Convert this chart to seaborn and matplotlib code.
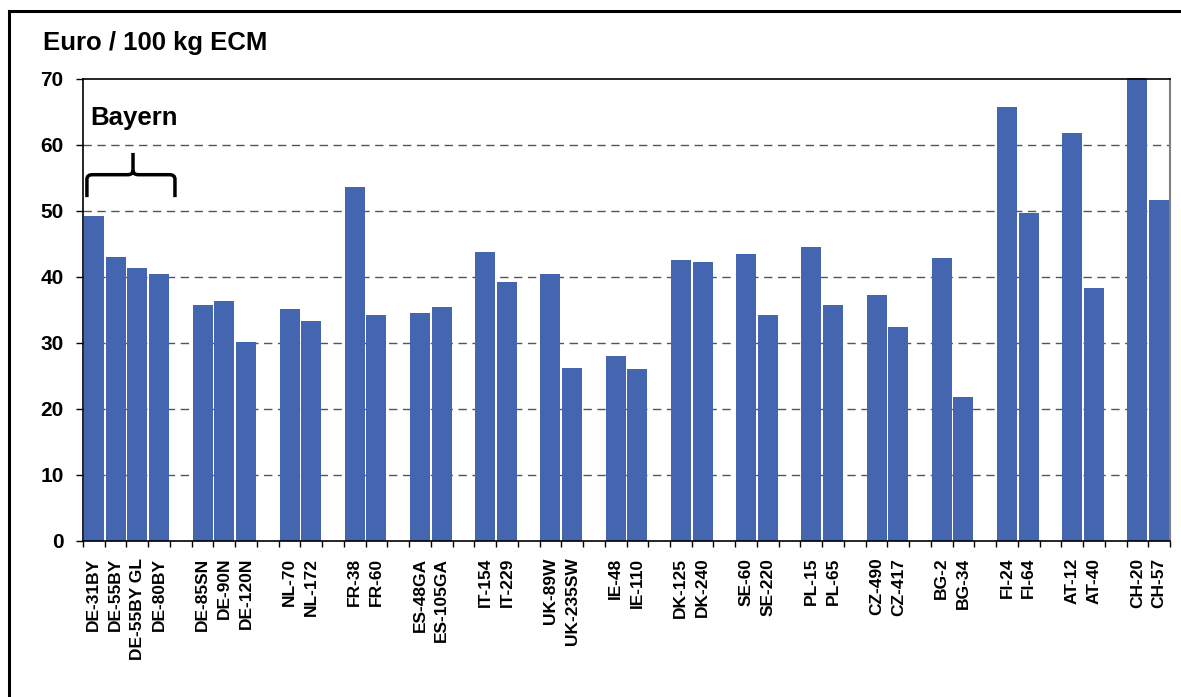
import numpy as np
import pandas as pd
import matplotlib
matplotlib.use("Agg")
import matplotlib.pyplot as plt
import seaborn as sns
from matplotlib.path import Path
from matplotlib.patches import PathPatch, Rectangle

# ----------------------------------------------------------
# Data
# ----------------------------------------------------------

labels = [
    "DE-31BY", "DE-55BY", "DE-55BY GL", "DE-80BY",
    "DE-85SN", "DE-90N", "DE-120N",
    "NL-70", "NL-172",
    "FR-38", "FR-60",
    "ES-48GA", "ES-105GA",
    "IT-154", "IT-229",
    "UK-89W", "UK-235SW",
    "IE-48", "IE-110",
    "DK-125", "DK-240",
    "SE-60", "SE-220",
    "PL-15", "PL-65",
    "CZ-490", "CZ-417",
    "BG-2", "BG-34",
    "FI-24", "FI-64",
    "AT-12", "AT-40",
    "CH-20", "CH-57",
]

values = [
    49.3, 43.1, 41.3, 40.5,
    35.8, 36.4, 30.2,
    35.2, 33.4,
    53.7, 34.2,
    34.5, 35.4,
    43.8, 39.2,
    40.5, 26.2,
    28.0, 26.0,
    42.6, 42.3,
    43.5, 34.3,
    44.6, 35.8,
    37.3, 32.5,
    42.9, 21.8,
    65.8, 49.7,
    61.8, 38.4,
    70.2, 51.6,
]

group_sizes = [4, 3, 2, 2, 2, 2, 2, 2, 2, 2, 2, 2, 2, 2, 2, 2]

y_ticks = [0, 10, 20, 30, 40, 50, 60, 70]

BAR_COLOR = "#4465AF"
FONT = "Liberation Sans"

# ----------------------------------------------------------
# Build category order with empty slots between groups
# ----------------------------------------------------------

order = []
tick_text = []
pos = 0
for g, size in enumerate(group_sizes):
    if g > 0:
        blank = " " * g
        order.append(blank)
        tick_text.append("")
    for lab in labels[pos:pos + size]:
        order.append(lab)
        tick_text.append(lab)
    pos += size

df = pd.DataFrame({"label": labels, "value": values})

# ----------------------------------------------------------
# Plot
# ----------------------------------------------------------

sns.set_theme(style="white")
plt.rcParams["font.family"] = [FONT, "DejaVu Sans"]
plt.rcParams["font.weight"] = "bold"
plt.rcParams["text.color"] = "black"
plt.rcParams["xtick.color"] = "black"
plt.rcParams["ytick.color"] = "black"
plt.rcParams["xtick.labelcolor"] = "black"
plt.rcParams["ytick.labelcolor"] = "black"

fig = plt.figure(figsize=(11.81, 6.97), dpi=100)
ax = fig.add_axes([83 / 1181, 1 - 541 / 697, (1170 - 83) / 1181, (541 - 79) / 697])

sns.barplot(
    data=df,
    x="label",
    y="value",
    order=order,
    color=BAR_COLOR,
    saturation=1,
    width=0.92,
    linewidth=0,
    ax=ax,
    zorder=2,
)

for bar in ax.patches:
    bar.set_clip_on(False)

n = len(order)
ax.set_xlim(-0.5, n - 0.5)
ax.set_ylim(0, 70)

# y axis
ax.set_yticks(y_ticks)
ax.set_yticklabels([str(v) for v in y_ticks], fontsize=15, fontweight="bold",
                   color="black")
ax.tick_params(axis="y", direction="out", length=5, width=1, color="black",
               pad=9, left=True)

# x axis: boundaries as tick marks, labels at bar centres
ax.set_xticks(np.arange(n + 1) - 0.5)
ax.set_xticklabels([])
ax.set_xticks(np.arange(n), minor=True)
ax.set_xticklabels(tick_text, minor=True, rotation=90, fontsize=12.5,
                   fontweight="bold", va="top", ha="center", color="black")
ax.tick_params(axis="x", which="major", direction="out", length=4.5,
               width=1, color="black", bottom=True)
ax.tick_params(axis="x", which="minor", length=0, pad=12)

ax.set_xlabel("")
ax.set_ylabel("")

# grid
for v in y_ticks[1:-1]:
    ax.axhline(v, color="#555555", lw=1, ls=(0, (6, 4)), zorder=1)

for side in ["left", "bottom", "top"]:
    ax.spines[side].set_color("black")
    ax.spines[side].set_linewidth(1.2)
ax.spines["right"].set_color("#808080")
ax.spines["right"].set_linewidth(1.5)

# Bayern label and brace
ax.text(-0.18, 63.0, "Bayern", fontsize=18.5, fontweight="bold",
        ha="left", va="baseline", color="black")

xl, xr, xm = -0.32, 3.73, 1.8
yb, yh, yt = 52.1, 55.5, 58.8
dx, dy = 0.25, 0.7
verts = [
    (xl, yb), (xl, yh - dy), (xl, yh), (xl + dx, yh),
    (xm - dx, yh), (xm, yh), (xm, yh + dy), (xm, yt),
    (xm, yh + dy), (xm, yh), (xm + dx, yh),
    (xr - dx, yh), (xr, yh), (xr, yh - dy), (xr, yb),
]
codes = [
    Path.MOVETO, Path.LINETO, Path.CURVE3, Path.CURVE3,
    Path.LINETO, Path.CURVE3, Path.CURVE3, Path.LINETO,
    Path.MOVETO, Path.CURVE3, Path.CURVE3,
    Path.LINETO, Path.CURVE3, Path.CURVE3, Path.LINETO,
]
ax.add_patch(PathPatch(Path(verts, codes), fill=False, lw=2.5,
                       edgecolor="black", zorder=5, clip_on=False))

# title
fig.text(43 / 1181, 1 - 50 / 697, "Euro / 100 kg ECM", fontsize=18.5,
         fontweight="bold", ha="left", va="baseline", color="black")

# outer frame
fig.patches.append(Rectangle((9 / 1181, -0.1), 1.2, 1.1 - 11 / 697,
                             transform=fig.transFigure, fill=False,
                             lw=2.2, edgecolor="black"))

fig.savefig("out.png", dpi=100)
